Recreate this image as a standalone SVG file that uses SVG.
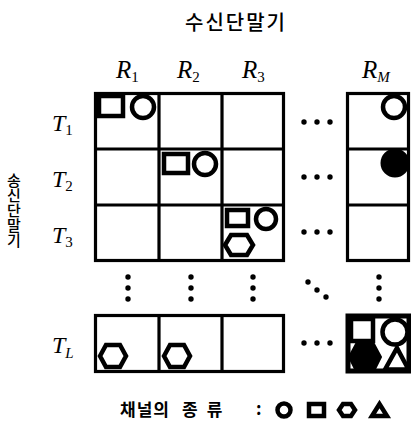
<svg xmlns="http://www.w3.org/2000/svg" width="411" height="423" viewBox="0 0 411 423">
<style>
.grid{fill:none;stroke:#000;stroke-width:3.2}
.sh{fill:#fff;stroke:#000;stroke-width:4.5}
.fl{fill:#000;stroke:#000;stroke-width:2}
.lb{font-family:"Liberation Serif",serif;font-style:italic;fill:#000}
.ko{font-family:"Noto Sans CJK KR",sans-serif;fill:#000}
.dot{fill:#000}
</style>
<g id="title"><text class="ko" x="236" y="30" font-size="20" font-weight="500" text-anchor="middle" letter-spacing="2">수신단말기</text></g>
<g id="side-label"><text class="ko" x="14" y="173" font-size="15" font-weight="500" style="writing-mode:vertical-rl">송신단말기</text></g>
<g id="col-labels" class="lb">
<text x="116" y="78" font-size="25">R<tspan font-size="15" dy="4" font-style="normal">1</tspan></text>
<text x="177" y="78" font-size="25">R<tspan font-size="15" dy="4" font-style="normal">2</tspan></text>
<text x="242" y="78" font-size="25">R<tspan font-size="15" dy="4" font-style="normal">3</tspan></text>
<text x="362" y="78" font-size="25">R<tspan font-size="15" dy="4">M</tspan></text>
</g>
<g id="row-labels" class="lb">
<text x="52" y="131" font-size="24">T<tspan font-size="15" dy="4" font-style="normal">1</tspan></text>
<text x="52" y="187" font-size="24">T<tspan font-size="15" dy="4" font-style="normal">2</tspan></text>
<text x="52" y="243" font-size="24">T<tspan font-size="15" dy="4" font-style="normal">3</tspan></text>
<text x="52" y="353" font-size="24">T<tspan font-size="15" dy="5">L</tspan></text>
</g>
<g id="grid-main">
<rect class="grid" x="95.5" y="93.5" width="188" height="167"/>
<line class="grid" x1="159" y1="93" x2="159" y2="261"/>
<line class="grid" x1="222" y1="93" x2="222" y2="261"/>
<line class="grid" x1="95" y1="149" x2="284" y2="149"/>
<line class="grid" x1="95" y1="205" x2="284" y2="205"/>
</g>
<g id="grid-rm">
<rect class="grid" x="347.5" y="93.5" width="61" height="167"/>
<line class="grid" x1="347" y1="149" x2="410" y2="149"/>
<line class="grid" x1="347" y1="205" x2="410" y2="205"/>
</g>
<g id="grid-tl">
<rect class="grid" x="95.5" y="315.5" width="188" height="56"/>
<line class="grid" x1="159" y1="315" x2="159" y2="372"/>
<line class="grid" x1="222" y1="315" x2="222" y2="372"/>
</g>
<g id="cell-T1R1">
<rect class="sh" x="99" y="96" width="24" height="20"/>
<circle class="sh" cx="143" cy="107" r="11"/>
</g>
<g id="cell-T2R2">
<rect class="sh" x="164" y="154" width="24" height="19"/>
<circle class="sh" cx="205" cy="164" r="11"/>
</g>
<g id="cell-T3R3">
<rect class="sh" x="227" y="210" width="21" height="16"/>
<circle class="sh" cx="266" cy="219" r="10"/>
<polygon class="sh" points="225,245 231,235 247,235 253,245 247,255 231,255"/>
</g>
<g id="cell-T1RM"><circle class="sh" cx="394" cy="107" r="11"/></g>
<g id="cell-T2RM"><circle class="fl" cx="395" cy="163" r="13.5"/></g>
<g id="cell-TLR1"><polygon class="sh" points="100,356 106,345 120,345 126,356 120,367 106,367"/></g>
<g id="cell-TLR2"><polygon class="sh" points="164,356 170,345 184,345 190,356 184,367 170,367"/></g>
<g id="cell-TLRM">
<rect x="348" y="316" width="61" height="55" fill="#fff" stroke="#000" stroke-width="5"/>
<rect class="sh" x="351" y="319" width="22" height="22" stroke-width="5"/>
<circle class="sh" cx="395" cy="332" r="12.5" stroke-width="5"/>
<polygon class="fl" points="349,357 356,344 374,344 381,357 374,371 356,371"/>
<polygon class="sh" points="385,369.5 397,348 408.5,369.5" stroke-width="5"/>
</g>
<g id="connectors">
<g class="dot">
<circle cx="304" cy="122" r="2.7"/><circle cx="317" cy="122" r="2.7"/><circle cx="330" cy="122" r="2.7"/>
<circle cx="304" cy="177" r="2.7"/><circle cx="317" cy="177" r="2.7"/><circle cx="330" cy="177" r="2.7"/>
<circle cx="304" cy="232" r="2.7"/><circle cx="317" cy="232" r="2.7"/><circle cx="330" cy="232" r="2.7"/>
<circle cx="304" cy="343" r="2.7"/><circle cx="317" cy="343" r="2.7"/><circle cx="330" cy="343" r="2.7"/>
<circle cx="128" cy="277" r="2.7"/><circle cx="128" cy="288" r="2.7"/><circle cx="128" cy="299" r="2.7"/>
<circle cx="191" cy="277" r="2.7"/><circle cx="191" cy="288" r="2.7"/><circle cx="191" cy="299" r="2.7"/>
<circle cx="253" cy="277" r="2.7"/><circle cx="253" cy="288" r="2.7"/><circle cx="253" cy="299" r="2.7"/>
<circle cx="379" cy="277" r="2.7"/><circle cx="379" cy="288" r="2.7"/><circle cx="379" cy="299" r="2.7"/>
<circle cx="308" cy="282" r="2.7"/><circle cx="317" cy="290" r="2.7"/><circle cx="326" cy="297" r="2.7"/>
</g>
</g>
<g id="legend">
<text class="ko" x="120" y="416" font-size="17" font-weight="bold" letter-spacing="1">채널의</text>
<text class="ko" x="182" y="416" font-size="17" font-weight="bold" letter-spacing="9">종류</text>
<text class="ko" x="256" y="415" font-size="17" font-weight="bold">:</text>
<circle class="sh" cx="284" cy="410" r="6.5" stroke-width="4"/>
<rect class="sh" x="309" y="404" width="15" height="12"/>
<polygon class="sh" points="339,410 343,404 351,404 355,410 351,416 343,416"/>
<polygon class="sh" points="372,416 379.5,404 387,416"/>
</g>
</svg>
